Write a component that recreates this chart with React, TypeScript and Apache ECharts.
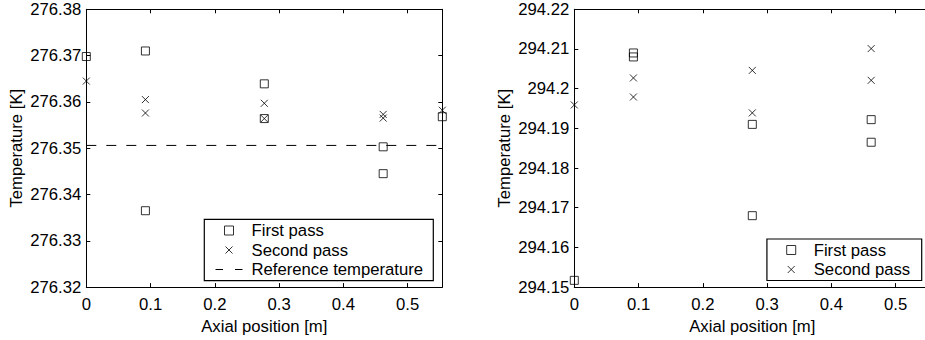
import React, { useEffect, useRef } from "react";
import * as echarts from "echarts";

// ---- data ----
const leftFirstX = [0, 0.092, 0.092, 0.277, 0.277, 0.462, 0.462, 0.554];
const leftFirstY = [276.3698, 276.371, 276.3365, 276.3639, 276.3564, 276.3503, 276.3445, 276.3568];
const leftSecondX = [0, 0.092, 0.092, 0.277, 0.277, 0.462, 0.462, 0.554];
const leftSecondY = [276.3645, 276.3605, 276.3576, 276.3597, 276.3564, 276.3573, 276.3565, 276.3582];
const refTemperature = 276.3506;
const refX = [0, 0.554];

const rightFirstX = [0, 0.092, 0.092, 0.277, 0.277, 0.462, 0.462];
const rightFirstY = [294.1517, 294.209, 294.208, 294.191, 294.168, 294.1922, 294.1865];
const rightSecondX = [0, 0.092, 0.092, 0.277, 0.277, 0.462, 0.462];
const rightSecondY = [294.1959, 294.2027, 294.1979, 294.2046, 294.1939, 294.2101, 294.2021];

const xRange = [0, 0.554];
const leftYRange = [276.32, 276.38];
const rightYRange = [294.15, 294.22];
const yInterval = 0.01;
const xInterval = 0.1;

const seriesNames = ["First pass", "Second pass", "Reference temperature"];
const xAxisTitle = "Axial position [m]";
const yAxisTitle = "Temperature [K]";

const CHART_W = 940;
const FONT = "'Liberation Sans', Arial, Helvetica, sans-serif";
const FS = 16.7;
const X_SYMBOL = "path://M0,0L10,10M10,0L0,10";
const X_ICON = "path://M0,0M9,9M1,1L8,8M8,1L1,8";
const SQ_ICON = "path://M0.5,0.5L8.5,0.5L8.5,8.5L0.5,8.5Z";
const DASH_ICON = "path://M0,0M27,9M0,4.5L7.5,4.5M19.5,4.5L27,4.5";

const zip = (xs: number[], ys: number[]) => xs.map((x, i) => [x, ys[i]]);
const fmt = (v: number) => String(parseFloat(v.toFixed(4)));

export default function App() {
  const ref = useRef<HTMLDivElement>(null);
  useEffect(() => {
    if (!ref.current) return;
    const chart = echarts.init(ref.current, undefined, { renderer: "svg" });

    const axisLine = { show: true, onZero: false, lineStyle: { color: "#000", width: 1 } };
    const tick = { show: true, inside: true, length: 4, lineStyle: { color: "#000", width: 1 } };
    const labelStyle = { color: "#000", fontSize: FS, fontFamily: FONT };

    const mkX = (gridIndex: number, bottom: boolean) => ({
      type: "value",
      gridIndex,
      position: bottom ? "bottom" : "top",
      min: xRange[0],
      max: xRange[1],
      interval: xInterval,
      axisLine,
      axisTick: tick,
      splitLine: { show: false },
      axisLabel: bottom
        ? { ...labelStyle, margin: 9, formatter: fmt, showMaxLabel: false }
        : { show: false },
      name: bottom ? xAxisTitle : "",
      nameLocation: "middle",
      nameGap: 26,
      nameTextStyle: labelStyle,
    });
    const mkY = (gridIndex: number, left: boolean, range: number[]) => ({
      type: "value",
      gridIndex,
      position: left ? "left" : "right",
      min: range[0],
      max: range[1],
      interval: yInterval,
      axisLine,
      axisTick: tick,
      splitLine: { show: false },
      axisLabel: left ? { ...labelStyle, margin: 5, formatter: fmt } : { show: false },
      name: left ? yAxisTitle : "",
      nameLocation: "middle",
      nameGap: 61,
      nameTextStyle: labelStyle,
    });

    const squareStyle = { color: "transparent", borderColor: "#000", borderWidth: 1 };
    const crossStyle = { color: "transparent", borderColor: "#000", borderWidth: 1 };

    const scatter = (name: string, xi: number, yi: number, data: number[][], square: boolean) => ({
      type: "scatter",
      name,
      xAxisIndex: xi,
      yAxisIndex: yi,
      data,
      symbol: square ? "rect" : X_SYMBOL,
      symbolSize: square ? 8 : 7,
      itemStyle: square ? squareStyle : crossStyle,
      clip: false,
      silent: true,
      emphasis: { disabled: true },
      z: 3,
    });

    const legendBase = {
      orient: "vertical",
      itemWidth: 30,
      itemHeight: 9,
      itemGap: 0,
      borderColor: "#000",
      borderWidth: 1.2,
      backgroundColor: "#fff",
      selectedMode: false,
      textStyle: {
        color: "#000",
        fontSize: FS,
        fontFamily: FONT,
        lineHeight: 19.5,
        padding: [0, 0, 0, 2.5],
      },
    };
    const firstItem = { name: seriesNames[0], icon: SQ_ICON, itemStyle: squareStyle };
    const secondItem = { name: seriesNames[1], icon: X_ICON, itemStyle: crossStyle };
    const refItem = {
      name: seriesNames[2],
      icon: DASH_ICON,
      itemStyle: { color: "transparent", borderColor: "#000", borderWidth: 1 },
    };

    chart.setOption({
      animation: false,
      backgroundColor: "#fff",
      grid: [
        { left: 86.3, top: 9.3, width: 356, height: 279 },
        { left: 574.3, top: 9.3, width: 356, height: 279 },
      ],
      xAxis: [mkX(0, true), mkX(0, false), mkX(1, true), mkX(1, false)],
      yAxis: [
        mkY(0, true, leftYRange),
        mkY(0, false, leftYRange),
        mkY(1, true, rightYRange),
        mkY(1, false, rightYRange),
      ],
      legend: [
        {
          ...legendBase,
          left: 204.3,
          top: 219.3,
          padding: [1.45, 10.2, 1.45, 10.7],
          data: [firstItem, secondItem, refItem],
        },
        {
          ...legendBase,
          right: CHART_W - 921.7,
          top: 239,
          padding: [1.25, 11.5, 1.25, 19.3],
          data: [firstItem, secondItem],
        },
      ],
      series: [
        scatter(seriesNames[0], 0, 0, zip(leftFirstX, leftFirstY), true),
        scatter(seriesNames[1], 0, 0, zip(leftSecondX, leftSecondY), false),
        {
          type: "line",
          name: seriesNames[2],
          xAxisIndex: 0,
          yAxisIndex: 0,
          data: refX.map((x) => [x, refTemperature]),
          symbol: "none",
          showSymbol: false,
          itemStyle: { color: "#000" },
          lineStyle: { color: "#000", width: 1, type: [10, 10] },
          silent: true,
          emphasis: { disabled: true },
          z: 2,
        },
        scatter(seriesNames[0], 2, 2, zip(rightFirstX, rightFirstY), true),
        scatter(seriesNames[1], 2, 2, zip(rightSecondX, rightSecondY), false),
      ],
    });
    return () => chart.dispose();
  }, []);

  return (
    <div
      style={{
        position: "fixed",
        left: 0,
        top: 0,
        width: 925,
        height: 340,
        overflow: "hidden",
        background: "#fff",
      }}
    >
      <div ref={ref} style={{ width: CHART_W, height: 340 }} />
    </div>
  );
}
